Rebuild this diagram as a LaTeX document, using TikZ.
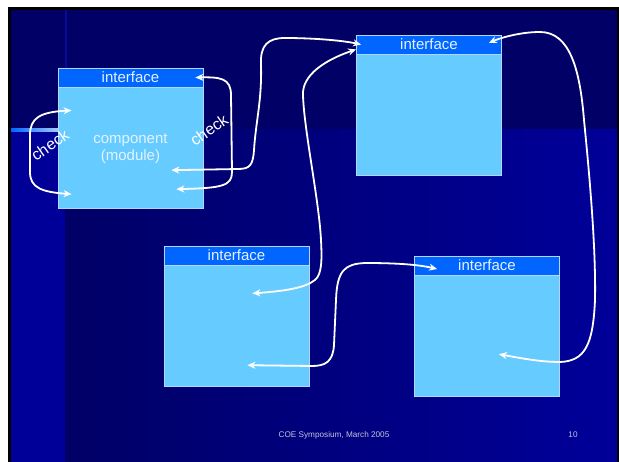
\documentclass[tikz,border=0pt]{standalone}
\usepackage{fontspec}
\setmainfont{Liberation Sans}
\usetikzlibrary{arrows.meta, positioning}

\definecolor{slidetop}{RGB}{0,0,102}
\definecolor{slidelow}{RGB}{0,0,153}
\definecolor{hdrblue}{RGB}{0,102,255}
\definecolor{bodyblue}{RGB}{102,204,255}
\definecolor{edgeblue}{RGB}{175,215,255}
\definecolor{paletext}{RGB}{228,242,255}
\definecolor{foottext}{RGB}{195,195,220}
\definecolor{seamblue}{RGB}{10,10,150}

\tikzstyle{iface}=[rectangle, draw=edgeblue, fill=hdrblue, line width=0.8pt, minimum width=145pt, minimum height=19pt, inner sep=0pt, text=paletext, font=\fontsize{15}{17}\selectfont]
\tikzstyle{modbody}=[rectangle, draw=edgeblue, fill=bodyblue, line width=0.8pt, minimum width=145pt, minimum height=121pt, inner sep=0pt, text=paletext, align=center, font=\fontsize{15}{17}\selectfont]
\tikzstyle{link}=[<->, white, line width=1.8pt, >={Stealth[length=8pt,width=7pt]}]
\tikzstyle{checklbl}=[text=white, rotate=35, inner sep=0pt, font=\fontsize{16}{16}\selectfont]
\tikzstyle{footer}=[text=foottext, inner sep=0pt, font=\fontsize{8.2}{9}\selectfont]

\begin{document}
\begin{tikzpicture}[x=1pt, y=-1pt]
\useasboundingbox (0,0) rectangle (619,462);

% Slide background
\fill[white] (0,0) rectangle (619,462);
\fill[black] (8,7) rectangle (619,462);
\fill[slidetop] (11,10) rectangle (616.5,462);
\shade[left color=slidetop, right color=slidelow] (65,130) rectangle (616.5,462);
\fill[slidelow] (11,130) rectangle (65,462);
\draw[seamblue, line width=1.2pt] (66,10) -- (66,130);
\shade[left color=hdrblue, right color=white!65!hdrblue] (11,128.8) rectangle (58,131.8);

% Component
\node[iface] (hdrA) at (130.5,77.5) {interface};
\node[modbody, below=0pt of hdrA] (bodyA) {component\\(module)};

% Other components
\node[iface] (hdrB) at (429,44.5) {interface};
\node[modbody, below=0pt of hdrB] (bodyB) {};

\node[iface] (hdrC) at (236.5,255.5) {interface};
\node[modbody, below=0pt of hdrC] (bodyC) {};

\node[iface] (hdrD) at (487,265.5) {interface};
\node[modbody, below=0pt of hdrD] (bodyD) {};

% Check loops
\draw[link] ([xshift=14pt,yshift=-23pt]bodyA.north west) .. controls (40,112) and (30,118) .. (30,135) -- (30,172) .. controls (30,188) and (42,192) .. ([xshift=14pt,yshift=15pt]bodyA.south west);
\draw[link] ([xshift=-8pt]hdrA.east) .. controls (220,77) and (231,78) .. (231,95) -- (232,172) .. controls (232,186) and (222,188) .. ([xshift=-27pt,yshift=20pt]bodyA.south east);
\node[checklbl] (chkL) at (50,145) {check};
\node[checklbl] (chkR) at (209,130) {check};

% Links between components
\draw[link] ([xshift=-32pt,yshift=39pt]bodyA.south east) -- (238,169) .. controls (250,169) and (253,165) .. (254,150) .. controls (256,120) and (262,100) .. (261,65) .. controls (260,45) and (268,38) .. (285,38) .. controls (310,38) and (340,40) .. ([xshift=5pt]hdrB.west);
\draw[link] ([xshift=-57pt,yshift=-28pt]bodyC.north east) .. controls (285,291) and (305,288) .. (315,280) .. controls (322,274) and (322,260) .. (321,240) .. controls (319,200) and (304,130) .. (303,95) .. controls (302,75) and (325,60) .. ([yshift=5pt]hdrB.south west);
\draw[link] ([xshift=-62pt,yshift=22pt]bodyC.south east) -- (312,366) .. controls (325,366) and (333,362) .. (334,345) -- (336,300) .. controls (337,270) and (345,264) .. (365,263) .. controls (400,263) and (420,265) .. ([xshift=23pt,yshift=-3.5pt]hdrD.west);
\draw[link] ([xshift=-61pt,yshift=43pt]bodyD.south east) .. controls (520,358) and (540,362) .. (560,362) .. controls (585,361) and (593,345) .. (595,300) .. controls (596,250) and (590,180) .. (584,120) .. controls (580,70) and (570,32) .. (540,32) .. controls (520,32) and (500,38) .. ([xshift=-13pt,yshift=1.5pt]hdrB.east);

% Footer
\node[footer] (venue) at (334,435) {COE Symposium, March 2005};
\node[footer] (pageno) at (573,435) {10};

\end{tikzpicture}
\end{document}
